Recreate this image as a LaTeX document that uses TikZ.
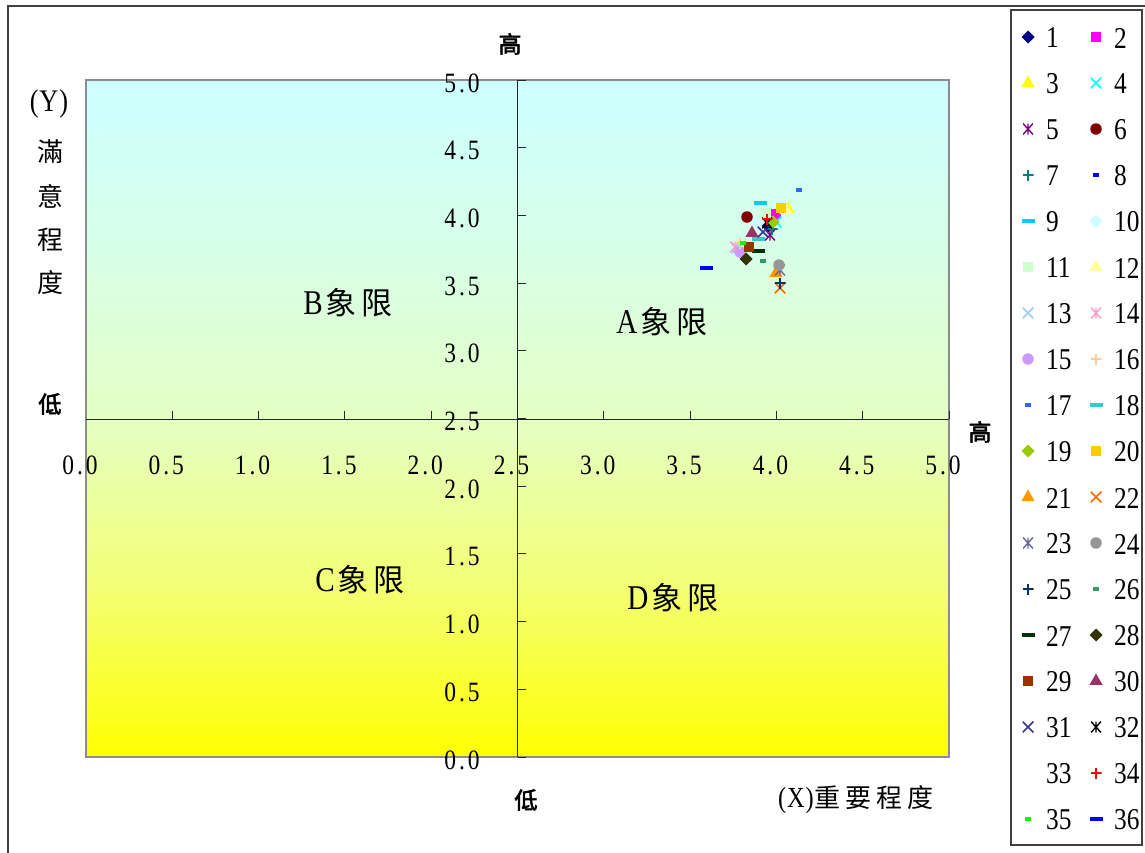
\documentclass[tikz,border=0pt]{standalone}
\usepackage{fontspec}
\usepackage{graphicx}
\setmainfont{Liberation Serif}
\newfontfamily\cjk{Noto Sans CJK TC}
\newfontfamily\cjkb[FakeBold=3]{Noto Sans CJK TC}
\usetikzlibrary{shapes.geometric}
\definecolor{cTop}{RGB}{204,255,255}
\definecolor{cQa}{RGB}{214,255,232}
\definecolor{cMid}{RGB}{228,255,196}
\definecolor{cQb}{RGB}{243,255,115}
\definecolor{cBot}{RGB}{255,255,0}
\pgfdeclareverticalshading{bgshade}{100bp}{color(0bp)=(cBot); color(25bp)=(cBot); color(37.5bp)=(cQb); color(50bp)=(cMid); color(62.5bp)=(cQa); color(75bp)=(cTop); color(100bp)=(cTop)}
\definecolor{c1}{HTML}{000080}
\definecolor{c2}{HTML}{FF00FF}
\definecolor{c3}{HTML}{FFFF00}
\definecolor{c4}{HTML}{00FFFF}
\definecolor{c5}{HTML}{800080}
\definecolor{c6}{HTML}{800000}
\definecolor{c7}{HTML}{008080}
\definecolor{c8}{HTML}{0000FF}
\definecolor{c9}{HTML}{00CCFF}
\definecolor{c10}{HTML}{CCFFFF}
\definecolor{c11}{HTML}{CCFFCC}
\definecolor{c12}{HTML}{FFFF99}
\definecolor{c13}{HTML}{99CCFF}
\definecolor{c14}{HTML}{FF99CC}
\definecolor{c15}{HTML}{CC99FF}
\definecolor{c16}{HTML}{FFCC99}
\definecolor{c17}{HTML}{3366FF}
\definecolor{c18}{HTML}{33CCCC}
\definecolor{c19}{HTML}{99CC00}
\definecolor{c20}{HTML}{FFCC00}
\definecolor{c21}{HTML}{FF9900}
\definecolor{c22}{HTML}{FF6600}
\definecolor{c23}{HTML}{666699}
\definecolor{c24}{HTML}{969696}
\definecolor{c25}{HTML}{003366}
\definecolor{c26}{HTML}{339966}
\definecolor{c27}{HTML}{003300}
\definecolor{c28}{HTML}{333300}
\definecolor{c29}{HTML}{993300}
\definecolor{c30}{HTML}{993366}
\definecolor{c31}{HTML}{333399}
\definecolor{c32}{HTML}{000000}
\definecolor{c34}{HTML}{FF0000}
\definecolor{c35}{HTML}{00FF00}
\definecolor{c36}{HTML}{0000FF}
\newcommand\tallnum[1]{\scalebox{0.94}[1.12]{#1}}
\newcommand\nm[2]{\tallnum{#1\makebox[0.5em]{.}#2}}
\newcommand\drawmk[3]{%
  \pgfmathtruncatemacro\mktype{mod(#1-1,9)}%
  \ifcase\mktype
    \node[mdia=c#1] (#2) at #3 {};%
  \or \node[msq=c#1] (#2) at #3 {};%
  \or \node[mtri=c#1] (#2) at #3 {};%
  \or \node[mx=c#1] (#2) at #3 {};%
  \or \node[mast=c#1] (#2) at #3 {};%
  \or \node[mcirc=c#1] (#2) at #3 {};%
  \or \node[mplus=c#1] (#2) at #3 {};%
  \or \node[mdashs=c#1] (#2) at #3 {};%
  \or \node[mdashl=c#1] (#2) at #3 {};%
  \fi}
\begin{document}
\begin{tikzpicture}[x=1pt,y=-1pt,
  mk/.style={inner sep=0pt,outer sep=0pt},
  mdia/.style={mk,diamond,fill=#1,minimum size=13pt},
  msq/.style={mk,rectangle,fill=#1,minimum size=10pt},
  mtri/.style={mk,regular polygon,regular polygon sides=3,fill=#1,minimum size=15pt},
  mcirc/.style={mk,circle,fill=#1,minimum size=11.5pt},
  mdashl/.style={mk,rectangle,fill=#1,minimum width=13pt,minimum height=3.8pt},
  mdashs/.style={mk,rectangle,fill=#1,minimum width=6.5pt,minimum height=3.8pt},
  mx/.style={mk,rectangle,minimum size=11pt,path picture={\draw[#1,line width=1.5pt]
     (path picture bounding box.south west) -- (path picture bounding box.north east)
     (path picture bounding box.north west) -- (path picture bounding box.south east);}},
  mplus/.style={mk,rectangle,minimum size=11pt,path picture={\draw[#1,line width=1.5pt]
     (path picture bounding box.north) -- (path picture bounding box.south)
     (path picture bounding box.west) -- (path picture bounding box.east);}},
  mast/.style={mk,rectangle,minimum width=10pt,minimum height=11pt,path picture={\draw[#1,line width=1.4pt]
     (path picture bounding box.north) -- (path picture bounding box.south)
     (path picture bounding box.south west) -- (path picture bounding box.north east)
     (path picture bounding box.north west) -- (path picture bounding box.south east);}},
  axisline/.style={black!85,line width=0.9pt},
  ticklbl/.style={inner sep=0pt,font=\fontsize{25}{25}\selectfont},
  leglbl/.style={inner sep=0pt,anchor=west,font=\fontsize{27}{27}\selectfont},
  cjklbl/.style={inner sep=0pt,font=\fontsize{26}{26}\selectfont\cjk},
  cjkbold/.style={inner sep=0pt,font=\fontsize{23}{23}\selectfont\cjkb},
  quad/.style={inner sep=0pt,font=\fontsize{31}{31}\selectfont},
]
\useasboundingbox (0,0) rectangle (1145,852);
\fill[white] (0,0) rectangle (1145,852);
\draw[black!75,line width=1.2pt] (8,6) rectangle (1160,870);
% plot area
\shade[shading=bgshade] (86,80) rectangle (949,757);
\draw[black!45,line width=1.4pt] (86,80) rectangle (949,757);
% axes
\coordinate (xl) at (86,419);
\coordinate (xr) at (949,419);
\coordinate (yt) at (517.5,80);
\coordinate (yb) at (517.5,757);
\draw[axisline] (xl) -- (xr);
\draw[axisline] (yt) -- (yb);
\foreach \k in {1,...,10} \draw[axisline] (86+\k*86.3,419) coordinate (xt\k) -- ++(0,-8);
\foreach \k in {0,...,10} \draw[axisline] (517.5,80+\k*67.7) coordinate (yt\k) -- ++(8,0);
\foreach \k/\a/\b in {0/0/0,1/0/5,2/1/0,3/1/5,4/2/0,5/2/5,6/3/0,7/3/5,8/4/0,9/4/5,10/5/0}
  \node[ticklbl] (xlab\k) at (86+\k*86.3-6,465) {\nm{\a}{\b}};
\foreach \k/\a/\b in {0/5/0,1/4/5,2/4/0,3/3/5,4/3/0,5/2/5,6/2/0,7/1/5,8/1/0,9/0/5,10/0/0}
  \node[ticklbl] (ylab\k) at (462,80+\k*67.7+3) {\nm{\a}{\b}};
% axis titles
\node[cjkbold] (ytop) at (510,44) {高};
\node[cjkbold] (ylow) at (50,404) {低};
\node[cjkbold] (xhigh) at (980,432) {高};
\node[cjkbold] (xlow) at (526,800) {低};
\node[inner sep=0pt,font=\fontsize{28}{28}\selectfont] (yname) at (49,104) {\tallnum{(\kern1pt Y\kern1pt)}};
\node[cjklbl] (y1) at (50,152) {滿};
\node[cjklbl] (y2) at (50,196) {意};
\node[cjklbl] (y3) at (50,240) {程};
\node[cjklbl] (y4) at (50,283) {度};
\node[inner sep=0pt,font=\fontsize{26}{26}\selectfont] (xname) at (856,800)
  {\tallnum{(\kern1pt X\kern1pt)}\cjk\kern1pt 重\kern5pt 要\kern5pt 程\kern5pt 度};
% quadrant names
\node[quad] (qB) at (348,303) {\tallnum{B}\kern3pt\cjk 象\kern5pt 限};
\node[quad] (qA) at (662,322) {\tallnum{A}\kern3pt\cjk 象\kern5pt 限};
\node[quad] (qC) at (360,580) {\tallnum{C}\kern3pt\cjk 象\kern5pt 限};
\node[quad] (qD) at (673,598) {\tallnum{D}\kern3pt\cjk 象\kern5pt 限};
% data points
\foreach \i/\x/\y in {1/768/226,2/776/214,3/788/209,4/776/222,5/770/235,6/747/217,
  7/772/229,8/799/190,9/760/203,10/757/223,11/766/213,12/786/210,13/737/248,
  14/735/247,15/740/252,16/740/243,17/799/190,18/758/239,19/773/222,20/781/208,
  21/776/273,22/780/288,23/780/270,24/779/265,25/780/283,26/763/261,27/758/251,
  28/746/259,29/749/247,30/752/233,31/763/232,32/767/223,34/767/219,35/743/243,36/706/268}
  {\drawmk{\i}{p\i}{(\x,\y)}}
% legend
\draw[black!75,line width=1.3pt] (1011,10) rectangle (1142,845);
\foreach \i in {1,...,36}{
  \pgfmathtruncatemacro\row{(\i-1)/2}
  \pgfmathtruncatemacro\col{mod(\i-1,2)}
  \ifnum\i=33\else\drawmk{\i}{l\i}{(1028+\col*68,37+\row*46)}\fi
  \node[leglbl] (t\i) at (1046+\col*68,38+\row*46) {\tallnum{\i}};
}
\end{tikzpicture}
\end{document}
